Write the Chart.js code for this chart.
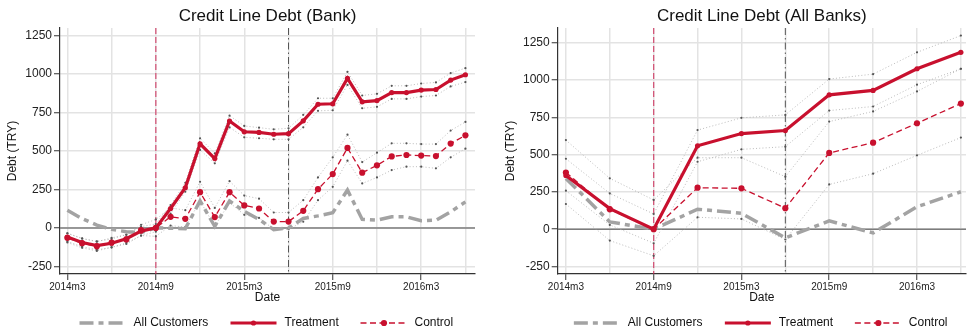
<!DOCTYPE html>
<html>
<head>
<meta charset="utf-8">
<script src="https://cdn.jsdelivr.net/npm/chart.js@4.4.1/dist/chart.umd.min.js"></script>
<style>
  html, body { margin: 0; padding: 0; background: #fff; }
  #wrap { position: relative; width: 970px; height: 330px; overflow: hidden; background: #fff; }
  #wrap canvas { position: absolute; top: 0; }
</style>
</head>
<body>
<div id="wrap">
  <canvas id="bankChart" width="485" height="330" style="left:0"></canvas>
  <canvas id="allBanksChart" width="485" height="330" style="left:485px"></canvas>
</div>
<script>
// ---------- Credit line debt at the bank (monthly) ----------
const bankMonths = ['2014m3','2014m4','2014m5','2014m6','2014m7','2014m8','2014m9','2014m10','2014m11','2014m12',
  '2015m1','2015m2','2015m3','2015m4','2015m5','2015m6','2015m7','2015m8','2015m9','2015m10','2015m11','2015m12',
  '2016m1','2016m2','2016m3','2016m4','2016m5','2016m6'];
const bankAllCustomers = [115,60,18,-10,-25,-30,0,-2,-5,175,10,175,107,55,-12,0,61,78,98,246,55,50,72,72,46,50,104,169];
const bankTreatment    = [-60,-95,-115,-100,-71,-21,0,126,261,547,451,695,625,621,609,613,696,804,807,972,820,828,880,880,896,900,961,996];
const bankTreatmentHi  = [-35,-68,-88,-72,-44,8,25,148,293,583,485,730,663,652,641,648,735,843,843,1015,861,872,924,924,939,946,1007,1039];
const bankTreatmentLo  = [-88,-122,-142,-128,-98,-50,-25,93,235,507,420,654,589,583,576,576,654,761,765,930,778,787,839,839,854,861,920,948];
const bankControl      = [-65,-100,-120,-95,-75,-15,0,72,59,232,70,232,146,126,41,41,111,252,350,520,359,407,465,474,470,467,548,602];
const bankControlHi    = [-35,-70,-90,-65,-45,20,55,130,115,300,130,304,210,190,100,100,180,328,459,606,428,489,550,550,545,545,633,689];
const bankControlLo    = [-95,-130,-150,-125,-105,-50,-55,15,5,175,10,165,85,65,-9,-9,40,180,267,437,289,328,376,398,398,387,459,515];

// ---------- Credit line debt across all banks (quarterly) ----------
const allQuarters = ['2014m3','2014m6','2014m9','2014m12','2015m3','2015m6','2015m9','2015m12','2016m3','2016m6'];
const allCustomers   = [340,49,0,134,107,-58,56,-25,150,251];
const allTreatment   = [360,138,0,559,641,661,900,930,1075,1185];
const allTreatmentHi = [472,240,102,664,746,766,1006,1039,1185,1297];
const allTreatmentLo = [258,29,-94,452,535,553,795,822,968,1075];
const allControl     = [380,133,0,278,274,141,511,580,710,842];
const allControlHi   = [597,341,196,479,479,352,721,789,923,1075];
const allControlLo   = [169,-76,-178,80,69,-69,300,372,495,614];

// ---------- Axes ----------
const xTickLabels = ['2014m3','2014m9','2015m3','2015m9','2016m3'];
const xGridDates  = ['2014m3','2014m6','2014m9','2014m12','2015m3','2015m6','2015m9','2015m12','2016m3','2016m6'];
const yTickValues = [-250, 0, 250, 500, 750, 1000, 1250];
const eventDates  = ['2014m9', '2015m6'];   // program start, follow-up marker

const FONT = '"Liberation Sans", Arial, Helvetica, sans-serif';
const RED = '#c8102e';
const GREY = '#a3a3a3';

// months elapsed since 2014m3
function monthIndex(label) {
  const [yr, mo] = label.split('m').map(Number);
  return (yr - 2014) * 12 + (mo - 3);
}
function tickLabelAt(v) {
  const hit = xTickLabels.find(l => monthIndex(l) === v);
  return hit || '';
}
function points(dates, values) {
  return dates.map((d, i) => ({ x: monthIndex(d), y: values[i] }));
}

const styles = {
  all:   { color: GREY, width: 3.5, dash: [14, 5, 5, 5] },
  treat: { color: RED, width: 3.2, dash: [], point: 2.6 },
  ctrl:  { color: RED, width: 1.3, dash: [6, 3.5], point: 3.1 },
  ci:    { color: '#b4b4b4', width: 0.9, dash: [1, 2.2] }
};

function lineDataset(label, data, st, pointRadius, pointColor) {
  return {
    label, data,
    borderColor: st.color, borderWidth: st.width, borderDash: st.dash,
    backgroundColor: pointColor || st.color,
    pointBackgroundColor: pointColor || st.color,
    pointBorderWidth: 0, pointRadius: pointRadius, tension: 0, fill: false
  };
}

const legendLayout = [
  { label: 'All Customers', key: 'all',   x0: -188, x1: -144, tx: -134 },
  { label: 'Treatment',     key: 'treat', x0: -37,  x1: 9,    tx: 17 },
  { label: 'Control',       key: 'ctrl',  x0: 93,   x1: 140,  tx: 147 }
];

const decorations = {
  id: 'decorations',
  beforeDatasetsDraw(chart) {
    const { ctx, chartArea: a, scales: { x, y } } = chart;
    ctx.save();
    ctx.beginPath();
    ctx.rect(a.left, a.top, a.right - a.left, a.bottom - a.top);
    ctx.clip();
    // reference line at zero
    const y0 = y.getPixelForValue(0);
    ctx.strokeStyle = '#7c7c7c'; ctx.lineWidth = 1.5; ctx.setLineDash([]);
    ctx.beginPath(); ctx.moveTo(a.left, y0); ctx.lineTo(a.right, y0); ctx.stroke();
    // event markers
    const markerStyles = [
      { color: 'rgba(205,40,85,0.75)', width: 1.3, dash: [6, 3] },
      { color: '#555', width: 1, dash: [7, 3, 1.5, 3] }
    ];
    eventDates.forEach((d, i) => {
      const px = x.getPixelForValue(monthIndex(d));
      const m = markerStyles[i];
      ctx.strokeStyle = m.color; ctx.lineWidth = m.width; ctx.setLineDash(m.dash);
      ctx.beginPath(); ctx.moveTo(px, a.top); ctx.lineTo(px, a.bottom); ctx.stroke();
    });
    ctx.restore();
  },
  afterDraw(chart, args, opts) {
    const { ctx, chartArea: a } = chart;
    const cx = (a.left + a.right) / 2;
    ctx.save();
    ctx.fillStyle = '#111';
    ctx.textBaseline = 'middle';
    // title
    ctx.font = '17px ' + FONT;
    ctx.textAlign = 'center';
    ctx.fillText(opts.title, cx, 16);
    // axis titles
    ctx.font = '12px ' + FONT;
    ctx.fillText('Date', cx, 298);
    ctx.save();
    ctx.translate(opts.yTitleX, (a.top + a.bottom) / 2);
    ctx.rotate(-Math.PI / 2);
    ctx.fillText('Debt (TRY)', 0, 0);
    ctx.restore();
    // legend
    const ly = 323;
    legendLayout.forEach(item => {
      const st = styles[item.key];
      ctx.save();
      ctx.strokeStyle = st.color; ctx.lineWidth = st.width; ctx.setLineDash(st.dash);
      ctx.beginPath(); ctx.moveTo(cx + item.x0, ly); ctx.lineTo(cx + item.x1, ly); ctx.stroke();
      if (st.point) {
        ctx.setLineDash([]);
        ctx.fillStyle = st.color;
        ctx.beginPath(); ctx.arc(cx + (item.x0 + item.x1) / 2, ly, st.point, 0, Math.PI * 2); ctx.fill();
      }
      ctx.restore();
      ctx.textAlign = 'left';
      ctx.font = '12px ' + FONT;
      ctx.fillStyle = '#111';
      ctx.fillText(item.label, cx + item.tx, ly);
    });
    ctx.restore();
  }
};

function makeChart(canvasId, title, dates, series, frame) {
  const H = 330;
  const gridOpts = { color: '#e3e3e3', lineWidth: 1.5, tickLength: 6, tickWidth: 1 };
  const datasets = [
    lineDataset('Treatment', points(dates, series.treat), styles.treat, styles.treat.point),
    lineDataset('Control', points(dates, series.ctrl), styles.ctrl, styles.ctrl.point),
    lineDataset('All Customers', points(dates, series.all), styles.all, 0),
    lineDataset('Treatment upper', points(dates, series.treatHi), styles.ci, 1.1, '#555'),
    lineDataset('Treatment lower', points(dates, series.treatLo), styles.ci, 1.1, '#555'),
    lineDataset('Control upper', points(dates, series.ctrlHi), styles.ci, 1.1, '#555'),
    lineDataset('Control lower', points(dates, series.ctrlLo), styles.ci, 1.1, '#555')
  ];
  return new Chart(document.getElementById(canvasId), {
    type: 'line',
    data: { datasets },
    plugins: [decorations],
    options: {
      responsive: false, animation: false, events: [], devicePixelRatio: 1,
      layout: { padding: { left: 0, right: frame.padRight, top: frame.top, bottom: 0 } },
      plugins: {
        legend: { display: false }, tooltip: { enabled: false }, title: { display: false },
        decorations: { title, yTitleX: frame.yTitleX }
      },
      scales: {
        x: {
          type: 'linear', min: frame.xMin, max: frame.xMax,
          afterBuildTicks: s => { s.ticks = xGridDates.map(d => ({ value: monthIndex(d) })); },
          afterFit: s => { s.height = H - frame.bottom; },
          ticks: { autoSkip: false, maxRotation: 0, minRotation: 0, padding: 1, color: '#222',
                   font: { family: FONT, size: 10 }, callback: v => tickLabelAt(v) },
          grid: Object.assign({}, gridOpts, { tickColor: c => (c.tick && tickLabelAt(c.tick.value)) ? '#333' : 'rgba(0,0,0,0)' }),
          border: { color: '#333', width: 1.2 }
        },
        y: {
          type: 'linear', min: frame.yMin, max: frame.yMax,
          afterBuildTicks: s => { s.ticks = yTickValues.map(v => ({ value: v })); },
          afterFit: s => { s.width = frame.left; },
          ticks: { padding: 2, color: '#222', font: { family: FONT, size: 12 }, callback: v => String(v) },
          grid: Object.assign({}, gridOpts, { tickColor: '#333' }),
          border: { color: '#333', width: 1.2 }
        }
      }
    }
  });
}

makeChart('bankChart', 'Credit Line Debt (Bank)', bankMonths, {
  all: bankAllCustomers, treat: bankTreatment, treatHi: bankTreatmentHi, treatLo: bankTreatmentLo,
  ctrl: bankControl, ctrlHi: bankControlHi, ctrlLo: bankControlLo
}, { left: 60, padRight: 10, top: 28, bottom: 274, xMin: -0.5, xMax: 27.65, yMin: -300, yMax: 1300, yTitleX: 12.5 });

makeChart('allBanksChart', 'Credit Line Debt (All Banks)', allQuarters, {
  all: allCustomers, treat: allTreatment, treatHi: allTreatmentHi, treatLo: allTreatmentLo,
  ctrl: allControl, ctrlHi: allControlHi, ctrlLo: allControlLo
}, { left: 72.7, padRight: 1, top: 28, bottom: 274, xMin: -0.56, xMax: 27.35, yMin: -300, yMax: 1348, yTitleX: 26 });
</script>
</body>
</html>
